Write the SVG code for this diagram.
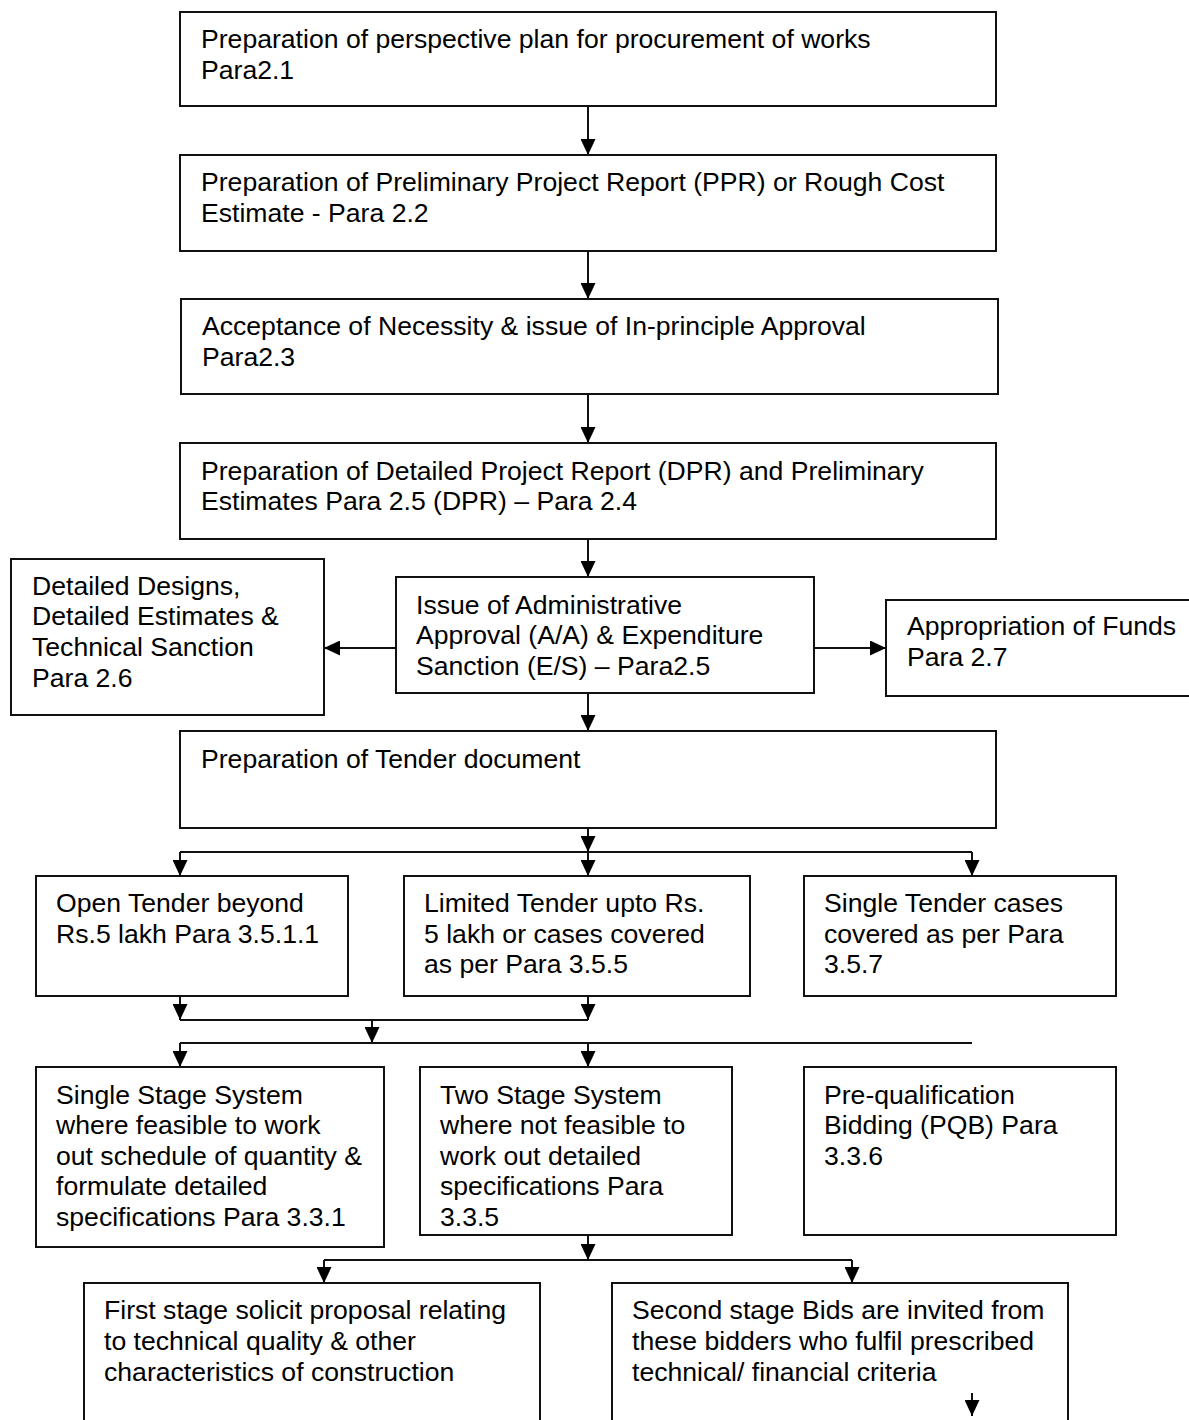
<svg xmlns="http://www.w3.org/2000/svg" width="1189" height="1420" viewBox="0 0 1189 1420">
<style>
.box{fill:#fff;stroke:#111;stroke-width:2}
.t{font-family:"Liberation Sans",Arial,sans-serif;font-size:26.6px;fill:#000}
.c{fill:none;stroke:#111;stroke-width:2}
.a{fill:none;stroke:#111;stroke-width:2;marker-end:url(#ah)}
</style>
<defs>
<marker id="ah" viewBox="0 0 16 15" markerWidth="16" markerHeight="15" refX="16" refY="7.5" orient="auto" markerUnits="userSpaceOnUse">
<path d="M0,0 L16,7.5 L0,15 z" fill="#000"/>
</marker>
</defs>
<rect width="1189" height="1420" fill="#fff"/>
<g id="connectors">
<line class="a" x1="588" y1="106" x2="588" y2="155"/>
<line class="a" x1="588" y1="251" x2="588" y2="299"/>
<line class="a" x1="588" y1="394" x2="588" y2="443"/>
<line class="a" x1="588" y1="539" x2="588" y2="577"/>
<line class="a" x1="396" y1="648" x2="324" y2="648"/>
<line class="a" x1="814" y1="648" x2="886" y2="648"/>
<line class="a" x1="588" y1="693" x2="588" y2="731"/>
<line class="a" x1="588" y1="828" x2="588" y2="852"/>
<line class="c" x1="180" y1="852" x2="972" y2="852"/>
<line class="a" x1="180" y1="852" x2="180" y2="876"/>
<line class="a" x1="588" y1="852" x2="588" y2="876"/>
<line class="a" x1="972" y1="852" x2="972" y2="876"/>
<line class="a" x1="180" y1="996" x2="180" y2="1020"/>
<line class="a" x1="588" y1="996" x2="588" y2="1020"/>
<line class="c" x1="180" y1="1020" x2="588" y2="1020"/>
<line class="a" x1="372" y1="1020" x2="372" y2="1043"/>
<line class="c" x1="180" y1="1043" x2="972" y2="1043"/>
<line class="a" x1="180" y1="1043" x2="180" y2="1067"/>
<line class="a" x1="588" y1="1043" x2="588" y2="1067"/>
<line class="a" x1="588" y1="1235" x2="588" y2="1260"/>
<line class="c" x1="324" y1="1260" x2="852" y2="1260"/>
<line class="a" x1="324" y1="1260" x2="324" y2="1283"/>
<line class="a" x1="852" y1="1260" x2="852" y2="1283"/>
</g>
<g id="n1"><rect class="box" x="180" y="12" width="816" height="94"/>
<text class="t" x="201" y="48">Preparation of perspective plan for procurement of works</text>
<text class="t" x="201" y="79">Para2.1</text></g>
<g id="n2"><rect class="box" x="180" y="155" width="816" height="96"/>
<text class="t" x="201" y="191">Preparation of Preliminary Project Report (PPR) or Rough Cost</text>
<text class="t" x="201" y="222">Estimate - Para 2.2</text></g>
<g id="n3"><rect class="box" x="181" y="299" width="817" height="95"/>
<text class="t" x="202" y="335">Acceptance of Necessity &amp; issue of In-principle Approval</text>
<text class="t" x="202" y="366">Para2.3</text></g>
<g id="n4"><rect class="box" x="180" y="443" width="816" height="96"/>
<text class="t" x="201" y="480">Preparation of Detailed Project Report (DPR) and Preliminary</text>
<text class="t" x="201" y="510">Estimates Para 2.5 (DPR) – Para 2.4</text></g>
<g id="n5"><rect class="box" x="396" y="577" width="418" height="116"/>
<text class="t" x="416" y="614">Issue of Administrative</text>
<text class="t" x="416" y="644">Approval (A/A) &amp; Expenditure</text>
<text class="t" x="416" y="675">Sanction (E/S) – Para2.5</text></g>
<g id="n6"><rect class="box" x="11" y="559" width="313" height="156"/>
<text class="t" x="32" y="595">Detailed Designs,</text>
<text class="t" x="32" y="625">Detailed Estimates &amp;</text>
<text class="t" x="32" y="656">Technical Sanction</text>
<text class="t" x="32" y="687">Para 2.6</text></g>
<g id="n7"><rect class="box" x="886" y="600" width="310" height="96"/>
<text class="t" x="907" y="635">Appropriation of Funds</text>
<text class="t" x="907" y="666">Para 2.7</text></g>
<g id="n8"><rect class="box" x="180" y="731" width="816" height="97"/>
<text class="t" x="201" y="768">Preparation of Tender document</text></g>
<g id="n9"><rect class="box" x="36" y="876" width="312" height="120"/>
<text class="t" x="56" y="912">Open Tender beyond</text>
<text class="t" x="56" y="943">Rs.5 lakh Para 3.5.1.1</text></g>
<g id="n10"><rect class="box" x="404" y="876" width="346" height="120"/>
<text class="t" x="424" y="912">Limited Tender upto Rs.</text>
<text class="t" x="424" y="943">5 lakh or cases covered</text>
<text class="t" x="424" y="973">as per Para 3.5.5</text></g>
<g id="n11"><rect class="box" x="804" y="876" width="312" height="120"/>
<text class="t" x="824" y="912">Single Tender cases</text>
<text class="t" x="824" y="943">covered as per Para</text>
<text class="t" x="824" y="973">3.5.7</text></g>
<g id="n12"><rect class="box" x="36" y="1067" width="348" height="180"/>
<text class="t" x="56" y="1104">Single Stage System</text>
<text class="t" x="56" y="1134">where feasible to work</text>
<text class="t" x="56" y="1165">out schedule of quantity &amp;</text>
<text class="t" x="56" y="1195">formulate detailed</text>
<text class="t" x="56" y="1226">specifications Para 3.3.1</text></g>
<g id="n13"><rect class="box" x="420" y="1067" width="312" height="168"/>
<text class="t" x="440" y="1104">Two Stage System</text>
<text class="t" x="440" y="1134">where not feasible to</text>
<text class="t" x="440" y="1165">work out detailed</text>
<text class="t" x="440" y="1195">specifications Para</text>
<text class="t" x="440" y="1226">3.3.5</text></g>
<g id="n14"><rect class="box" x="804" y="1067" width="312" height="168"/>
<text class="t" x="824" y="1104">Pre-qualification</text>
<text class="t" x="824" y="1134">Bidding (PQB) Para</text>
<text class="t" x="824" y="1165">3.3.6</text></g>
<g id="n15"><rect class="box" x="84" y="1283" width="456" height="150"/>
<text class="t" x="104" y="1319">First stage solicit proposal relating</text>
<text class="t" x="104" y="1350">to technical quality &amp; other</text>
<text class="t" x="104" y="1381">characteristics of construction</text></g>
<g id="n16"><rect class="box" x="612" y="1283" width="456" height="150"/>
<text class="t" x="632" y="1319">Second stage Bids are invited from</text>
<text class="t" x="632" y="1350">these bidders who fulfil prescribed</text>
<text class="t" x="632" y="1381">technical/ financial criteria</text>
<line class="a" x1="972" y1="1393" x2="972" y2="1416"/></g>
</svg>
